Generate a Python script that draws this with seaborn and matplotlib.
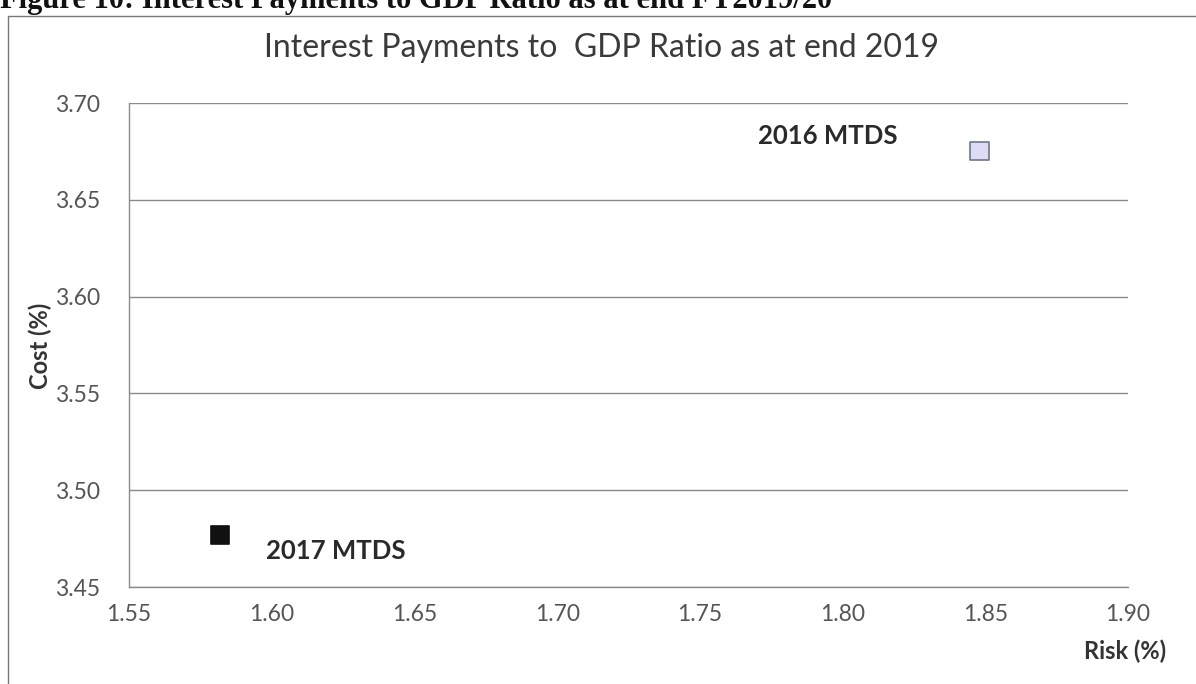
import matplotlib
matplotlib.use("Agg")
import matplotlib.pyplot as plt
import seaborn as sns
import pandas as pd
from matplotlib.patches import Rectangle

# chart data
plans = ["2016 MTDS", "2017 MTDS"]
risk = [1.848, 1.582]
cost = [3.675, 3.477]
x_ticks = [1.55, 1.60, 1.65, 1.70, 1.75, 1.80, 1.85, 1.90]
y_ticks = [3.45, 3.50, 3.55, 3.60, 3.65, 3.70]
point_colors = {"2016 MTDS": "#dcdcf4", "2017 MTDS": "#111111"}
edge_colors = {"2016 MTDS": "#6f7590", "2017 MTDS": "#111111"}

df = pd.DataFrame({"Plan": plans, "Risk": risk, "Cost": cost})

sns.set_theme(style="white")
plt.rcParams["font.family"] = ["Lato", "DejaVu Sans"]

fig = plt.figure(figsize=(11.96, 6.84), dpi=100)
ax = fig.add_axes([0.1079, 0.1418, 0.8352, 0.7076])

sns.scatterplot(data=df, x="Risk", y="Cost", hue="Plan", palette=point_colors,
                marker="s", s=170, legend=False, ax=ax, zorder=3)
ax.collections[0].set_edgecolors([edge_colors[p] for p in df["Plan"]])
ax.collections[0].set_linewidths(1.2)

# point labels
offsets = {"2016 MTDS": (-109, 11), "2017 MTDS": (83, -12)}
for p, x, y in zip(df["Plan"], df["Risk"], df["Cost"]):
    ax.annotate(p, (x, y), xytext=offsets[p], textcoords="offset points",
                ha="center", va="center", fontsize=18.5, fontweight="bold",
                color="#2a2a2a")

ax.set_xlim(1.55, 1.90)
ax.set_ylim(3.45, 3.70)
ax.set_xticks(x_ticks)
ax.set_yticks(y_ticks)
ax.set_xticklabels([f"{v:.2f}" for v in x_ticks])
ax.set_yticklabels([f"{v:.2f}" for v in y_ticks])
ax.tick_params(axis="both", labelsize=16.5, labelcolor="#555555", length=0)
ax.tick_params(axis="x", pad=12)
ax.tick_params(axis="y", pad=21)

ax.grid(axis="y", color="#8a8a8a", linewidth=1)
ax.set_axisbelow(True)
for side in ["top", "right"]:
    ax.spines[side].set_visible(False)
for side in ["left", "bottom"]:
    ax.spines[side].set_color("#8a8a8a")
    ax.spines[side].set_linewidth(1)

ax.set_xlabel("")
ax.set_ylabel("")
fig.text(0.975, 0.048, "Risk (%)", ha="right", va="center", fontsize=17,
         fontweight="bold", color="#333333")
fig.text(0.034, 0.495, "Cost (%)", ha="center", va="center", rotation=90,
         fontsize=17, fontweight="bold", color="#333333")

fig.text(0.503, 0.93, "Interest Payments to  GDP Ratio as at end 2019",
         ha="center", va="center", fontsize=23, color="#3a3a3a")

# outer chart frame and the cut-off document caption
fig.patches.append(Rectangle((0.007, -0.05), 1.1, 1.026, transform=fig.transFigure,
                             fill=False, edgecolor="#777777", linewidth=1))
fig.text(0.0, 1 - 8 / 684, "Figure 10: Interest Payments to GDP Ratio as at end FY2019/20",
         ha="left", va="baseline", fontsize=22, fontweight="bold",
         family=["Liberation Serif", "DejaVu Serif"], color="#111111")

fig.savefig("out.png", dpi=100)
